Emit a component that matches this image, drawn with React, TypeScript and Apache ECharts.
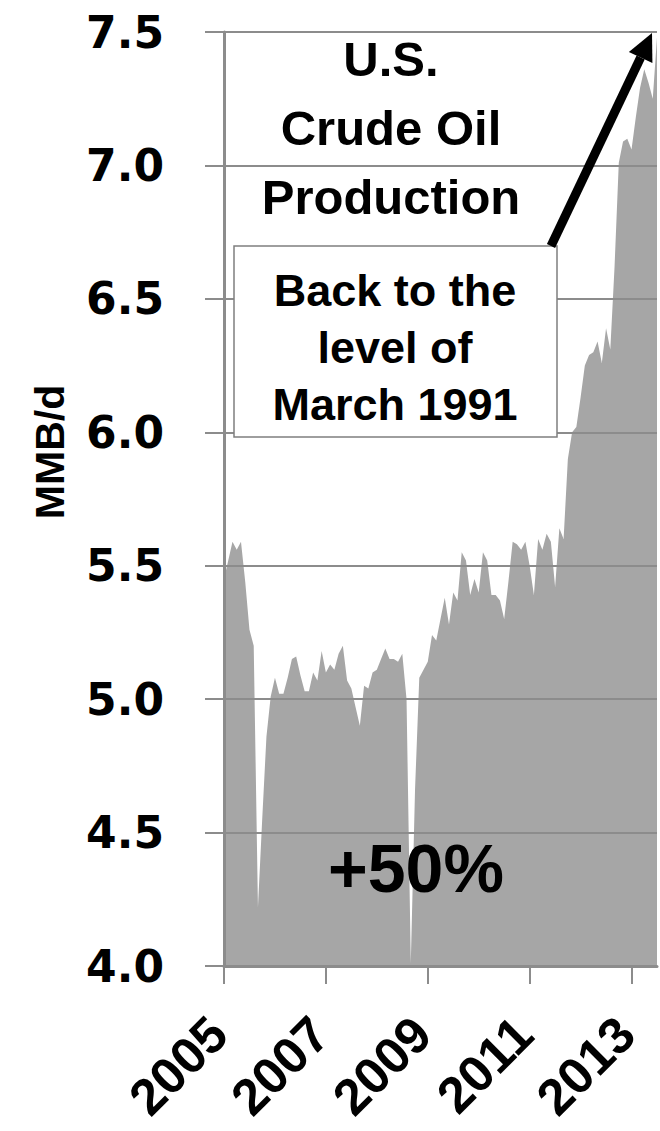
import React, { useEffect, useRef } from "react";
import * as echarts from "echarts";

// Monthly U.S. crude oil production, million barrels per day, Jan 2005 onward
const startYear = 2005;
const production: number[] = [
  5.45, 5.52, 5.59, 5.56, 5.59, 5.44, 5.26, 5.2, 4.22, 4.55, 4.86, 5.01,
  5.08, 5.02, 5.02, 5.08, 5.15, 5.16, 5.09, 5.03, 5.03, 5.1, 5.07, 5.18,
  5.1, 5.13, 5.11, 5.17, 5.2, 5.07, 5.04, 4.97, 4.9, 5.05, 5.04, 5.1,
  5.11, 5.15, 5.19, 5.15, 5.15, 5.14, 5.17, 5.0, 4.01, 4.66, 5.08, 5.11,
  5.14, 5.24, 5.22, 5.3, 5.38, 5.28, 5.4, 5.37, 5.55, 5.52, 5.39, 5.45,
  5.4, 5.55, 5.52, 5.39, 5.39, 5.37, 5.3, 5.44, 5.59, 5.58, 5.56, 5.59,
  5.5, 5.39, 5.6, 5.56, 5.62, 5.59, 5.42, 5.64, 5.6, 5.9, 6.0, 6.02,
  6.13, 6.25, 6.29, 6.3, 6.34, 6.26, 6.39, 6.31, 6.62, 7.01, 7.09, 7.1,
  7.06, 7.18, 7.29, 7.36, 7.31, 7.25, 7.48,
];
const months: string[] = production.map((_, i) => {
  const y = startYear + Math.floor(i / 12);
  const m = (i % 12) + 1;
  return `${y}-${m < 10 ? "0" + m : m}`;
});
const yTicks = { min: 4.0, max: 7.5, step: 0.5 };
const labelEveryMonths = 24;

const titleLines = ["U.S.", "Crude Oil", "Production"];
const noteLines = ["Back to the", "level of", "March 1991"];
const changeLabel = "+50%";
const unitLabel = "MMB/d";

const GRAY = "#8c8c8c";
const AREA = "#a6a6a6";

export default function App() {
  const ref = useRef<HTMLDivElement>(null);

  useEffect(() => {
    if (!ref.current) return;
    const chart = echarts.init(ref.current, null, { renderer: "svg" });

    // arrow geometry: from the note box up to the top right corner of the plot
    const tip = [652, 33];
    const ux = 0.421, uy = -0.906;
    const headLen = 27, headHalf = 13;
    const base = [tip[0] - headLen * ux, tip[1] - headLen * uy];
    const nx = -uy, ny = ux;

    chart.setOption({
      animation: false,
      backgroundColor: "#ffffff",
      grid: {
        left: 224,
        right: 3,
        top: 32,
        bottom: 165,
        containLabel: false,
        outerBoundsMode: "none",
      },
      xAxis: {
        type: "category",
        data: months,
        boundaryGap: false,
        z: 5,
        axisLine: { show: true, lineStyle: { color: GRAY, width: 3 } },
        axisTick: {
          show: true,
          length: 18,
          interval: (i: number) => i % labelEveryMonths === 0,
          lineStyle: { color: GRAY, width: 2 },
        },
        axisLabel: {
          interval: (i: number) => i % labelEveryMonths === 0,
          rotate: 45,
          margin: 54,
          padding: [0, 8, 0, 0],
          color: "#000",
          fontFamily: "Liberation Sans",
          fontWeight: "bold",
          fontSize: 51,
          formatter: (v: string) => v.slice(0, 4),
        },
        splitLine: { show: false },
      },
      yAxis: {
        type: "value",
        min: yTicks.min,
        max: yTicks.max,
        interval: yTicks.step,
        z: 5,
        axisLine: { show: true, lineStyle: { color: GRAY, width: 3 } },
        axisTick: { show: true, length: 19, lineStyle: { color: GRAY, width: 2 } },
        axisLabel: {
          margin: 60,
          color: "#000",
          fontFamily: "DejaVu Sans",
          fontWeight: "bold",
          fontSize: 44,
          formatter: (v: number) => v.toFixed(1),
        },
        splitLine: { show: true, lineStyle: { color: GRAY, width: 2 } },
      },
      series: [
        {
          type: "line",
          data: production,
          symbol: "none",
          lineStyle: { width: 0, color: AREA },
          areaStyle: { color: AREA, opacity: 1, origin: "start" },
          z: 2,
        },
      ],
      graphic: [
        {
          type: "text",
          x: 391,
          y: 24,
          z: 10,
          style: {
            text: titleLines.join("\n"),
            font: 'bold 49px "Liberation Sans"',
            fill: "#000",
            textAlign: "center",
            lineHeight: 69,
          },
        },
        {
          type: "rect",
          z: 10,
          shape: { x: 234, y: 246, width: 323, height: 191 },
          style: { fill: "#fff", stroke: "#7f7f7f", lineWidth: 1.5 },
        },
        {
          type: "text",
          x: 395,
          y: 262,
          z: 11,
          style: {
            text: noteLines.join("\n"),
            font: 'bold 45px "Liberation Sans"',
            fill: "#000",
            textAlign: "center",
            lineHeight: 57,
          },
        },
        {
          type: "line",
          z: 12,
          shape: { x1: 551, y1: 246, x2: base[0], y2: base[1] },
          style: { stroke: "#000", lineWidth: 9 },
        },
        {
          type: "polygon",
          z: 12,
          shape: {
            points: [
              tip,
              [base[0] + headHalf * nx, base[1] + headHalf * ny],
              [base[0] - headHalf * nx, base[1] - headHalf * ny],
            ],
          },
          style: { fill: "#000" },
        },
        {
          type: "text",
          x: 416,
          y: 868,
          z: 10,
          style: {
            text: changeLabel,
            font: 'bold 68px "Liberation Sans"',
            fill: "#000",
            textAlign: "center",
            textVerticalAlign: "middle",
          },
        },
        {
          type: "text",
          x: 50,
          y: 452,
          rotation: Math.PI / 2,
          z: 10,
          style: {
            text: unitLabel,
            font: 'bold 41px "Liberation Sans"',
            fill: "#000",
            textAlign: "center",
            textVerticalAlign: "middle",
          },
        },
      ],
    });

    return () => chart.dispose();
  }, []);

  return (
    <div
      ref={ref}
      style={{ position: "fixed", left: 0, top: 0, width: 660, height: 1131 }}
    />
  );
}
